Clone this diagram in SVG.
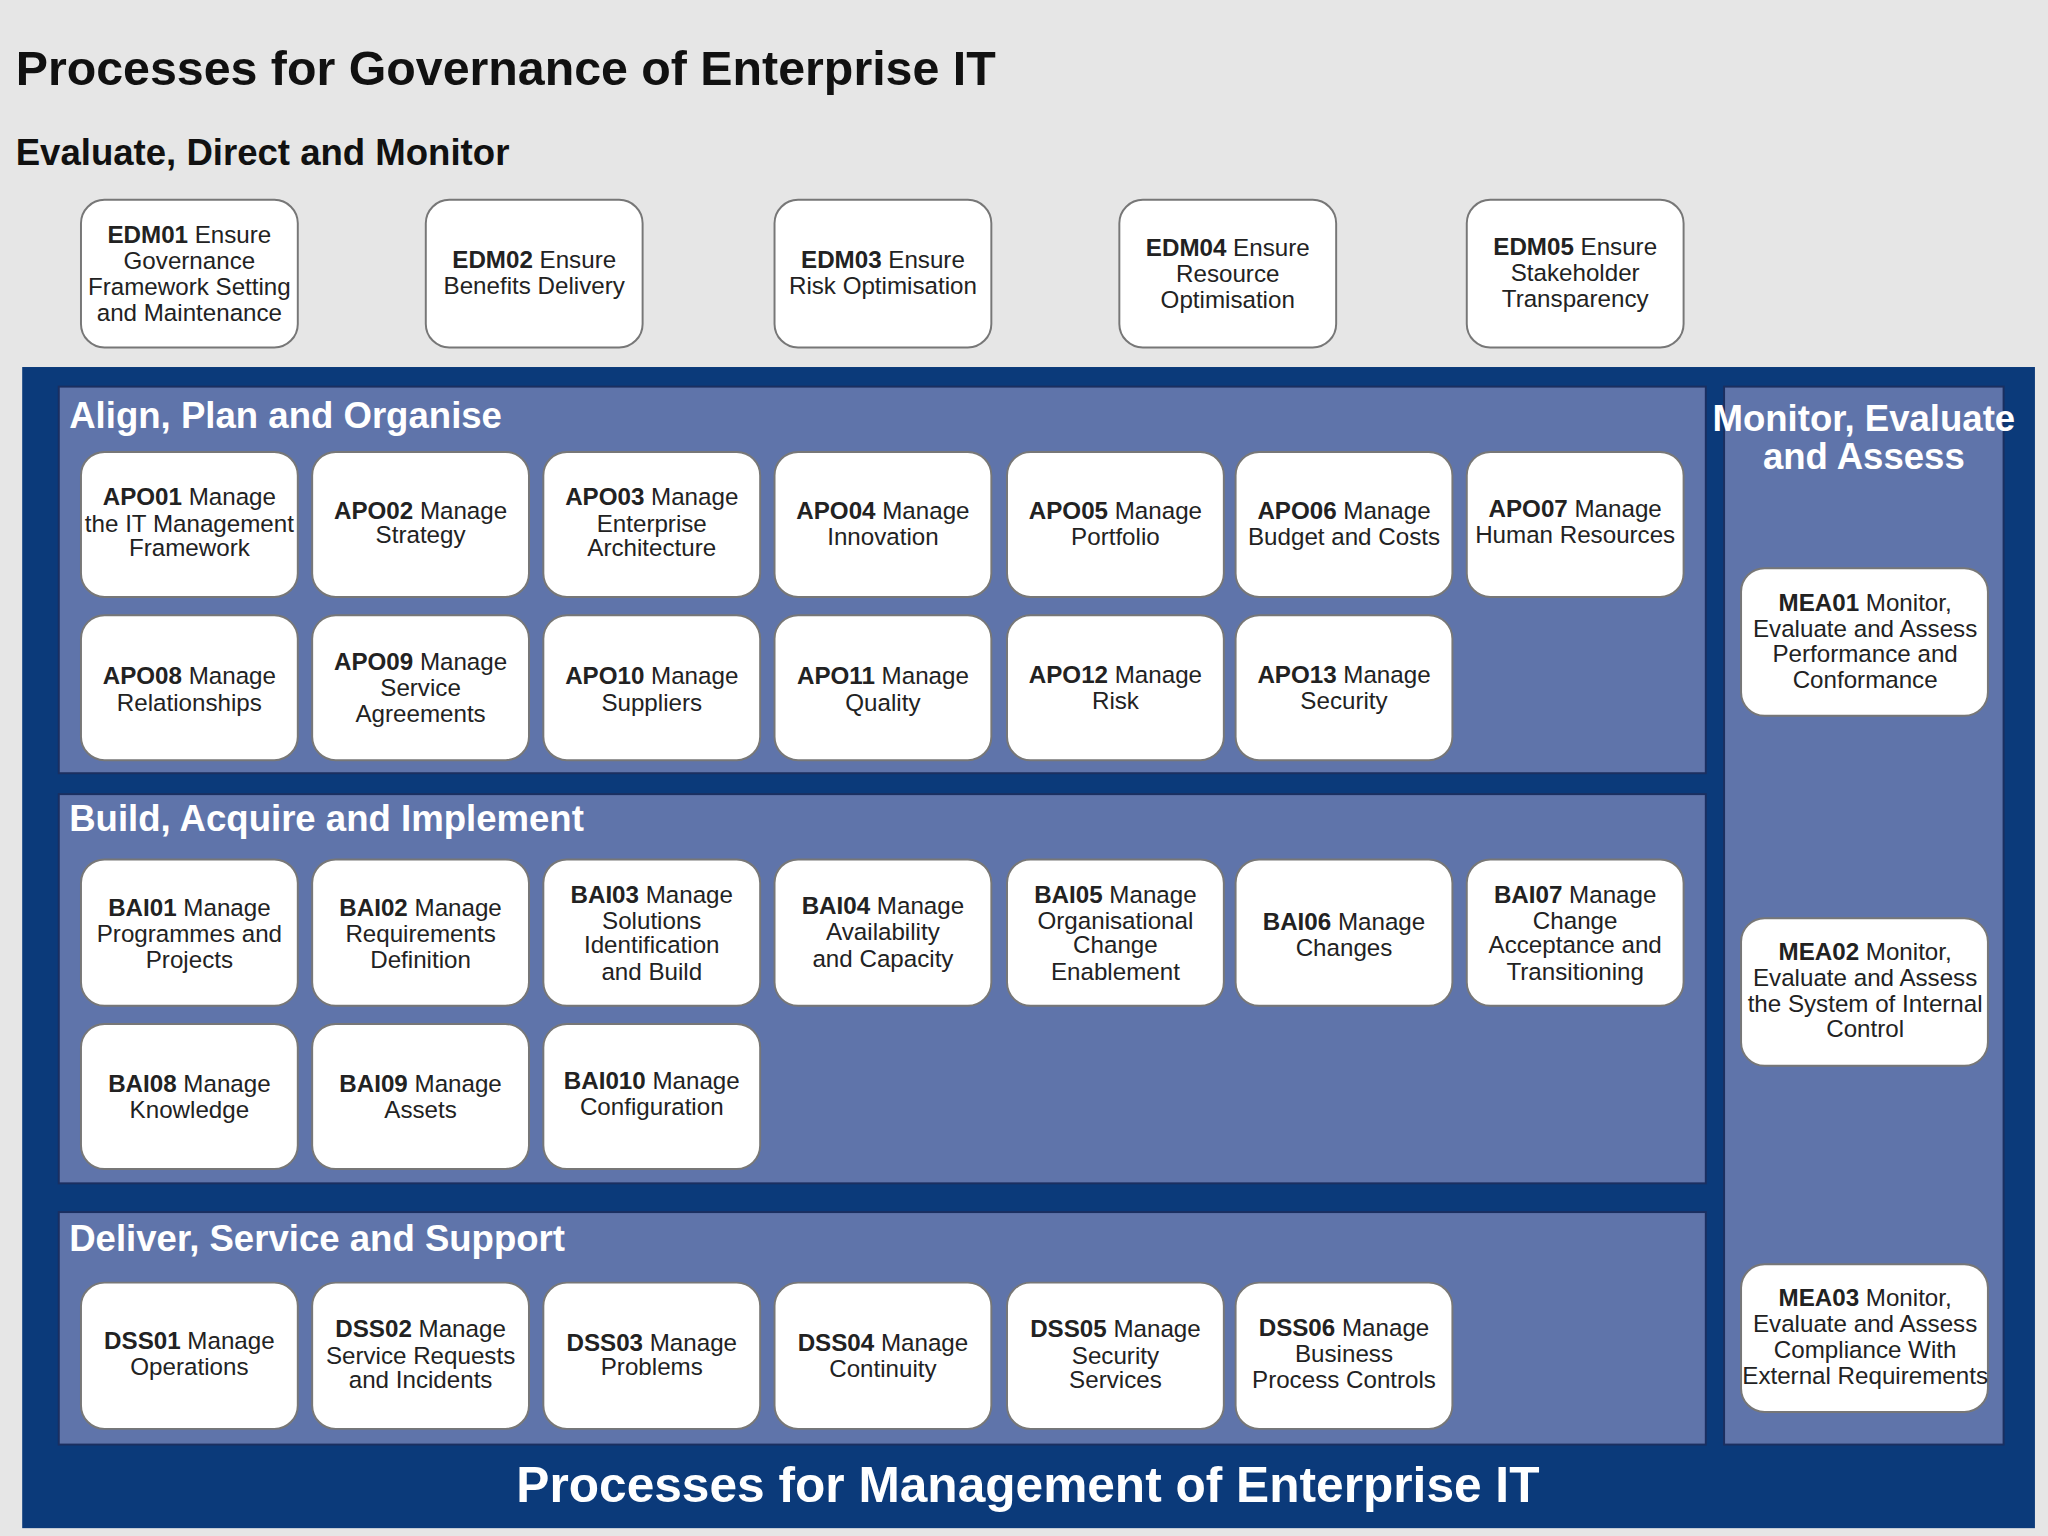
<svg xmlns="http://www.w3.org/2000/svg" width="2048" height="1536" viewBox="0 0 2048 1536">
<style>
text{font-family:"Liberation Sans Narrow","Liberation Sans",Arial,sans-serif}
.n rect{fill:#fff;stroke:#777;stroke-width:1.5}
.n text{font-size:18.5px;fill:#222;text-anchor:middle}
.b{font-weight:bold}
.p{fill:#5f74aa;stroke:#1b2f60;stroke-width:1.5}
.h{font-size:28px;font-weight:bold;fill:#fff}
</style>
<rect width="2048" height="1536" fill="#e6e6e6"/>
<g transform="scale(1.30612)">
<text x="12" y="65" font-size="37" font-weight="bold" fill="#111">Processes for Governance of Enterprise IT</text>
<text x="12" y="126" font-size="28" font-weight="bold" fill="#111">Evaluate, Direct and Monitor</text>
<rect x="17" y="281" width="1541" height="889" fill="#0b3a7a"/>
<rect class="p" x="45" y="296" width="1261" height="296"/>
<rect class="p" x="45" y="608" width="1261" height="298"/>
<rect class="p" x="45" y="928" width="1261" height="178"/>
<rect class="p" x="1320" y="296" width="214" height="810"/>
<text class="h" x="53" y="328">Align, Plan and Organise</text>
<text class="h" x="53" y="636">Build, Acquire and Implement</text>
<text class="h" x="53" y="958">Deliver, Service and Support</text>
<text class="h" x="1427" y="330" text-anchor="middle">Monitor, Evaluate</text>
<text class="h" x="1427" y="359" text-anchor="middle">and Assess</text>
<text x="787" y="1150" font-size="38" font-weight="bold" fill="#fff" text-anchor="middle">Processes for Management of Enterprise IT</text>

<g id="EDM01" class="n"><rect x="62" y="153" width="166" height="113" rx="18"/><text x="145" y="186"><tspan class="b">EDM01</tspan> Ensure</text><text x="145" y="206">Governance</text><text x="145" y="226">Framework Setting</text><text x="145" y="246">and Maintenance</text></g>
<g id="EDM02" class="n"><rect x="326" y="153" width="166" height="113" rx="18"/><text x="409" y="205"><tspan class="b">EDM02</tspan> Ensure</text><text x="409" y="225">Benefits Delivery</text></g>
<g id="EDM03" class="n"><rect x="593" y="153" width="166" height="113" rx="18"/><text x="676" y="205"><tspan class="b">EDM03</tspan> Ensure</text><text x="676" y="225">Risk Optimisation</text></g>
<g id="EDM04" class="n"><rect x="857" y="153" width="166" height="113" rx="18"/><text x="940" y="196"><tspan class="b">EDM04</tspan> Ensure</text><text x="940" y="216">Resource</text><text x="940" y="236">Optimisation</text></g>
<g id="EDM05" class="n"><rect x="1123" y="153" width="166" height="113" rx="18"/><text x="1206" y="195"><tspan class="b">EDM05</tspan> Ensure</text><text x="1206" y="215">Stakeholder</text><text x="1206" y="235">Transparency</text></g>

<g id="APO01" class="n"><rect x="62" y="346" width="166" height="111" rx="18"/><text x="145" y="387"><tspan class="b">APO01</tspan> Manage</text><text x="145" y="407">the IT Management</text><text x="145" y="426">Framework</text></g>
<g id="APO02" class="n"><rect x="239" y="346" width="166" height="111" rx="18"/><text x="322" y="397"><tspan class="b">APO02</tspan> Manage</text><text x="322" y="416">Strategy</text></g>
<g id="APO03" class="n"><rect x="416" y="346" width="166" height="111" rx="18"/><text x="499" y="387"><tspan class="b">APO03</tspan> Manage</text><text x="499" y="407">Enterprise</text><text x="499" y="426">Architecture</text></g>
<g id="APO04" class="n"><rect x="593" y="346" width="166" height="111" rx="18"/><text x="676" y="397"><tspan class="b">APO04</tspan> Manage</text><text x="676" y="417">Innovation</text></g>
<g id="APO05" class="n"><rect x="771" y="346" width="166" height="111" rx="18"/><text x="854" y="397"><tspan class="b">APO05</tspan> Manage</text><text x="854" y="417">Portfolio</text></g>
<g id="APO06" class="n"><rect x="946" y="346" width="166" height="111" rx="18"/><text x="1029" y="397"><tspan class="b">APO06</tspan> Manage</text><text x="1029" y="417">Budget and Costs</text></g>
<g id="APO07" class="n"><rect x="1123" y="346" width="166" height="111" rx="18"/><text x="1206" y="396"><tspan class="b">APO07</tspan> Manage</text><text x="1206" y="416">Human Resources</text></g>
<g id="APO08" class="n"><rect x="62" y="471" width="166" height="111" rx="18"/><text x="145" y="524"><tspan class="b">APO08</tspan> Manage</text><text x="145" y="544">Relationships</text></g>
<g id="APO09" class="n"><rect x="239" y="471" width="166" height="111" rx="18"/><text x="322" y="513"><tspan class="b">APO09</tspan> Manage</text><text x="322" y="533">Service</text><text x="322" y="553">Agreements</text></g>
<g id="APO10" class="n"><rect x="416" y="471" width="166" height="111" rx="18"/><text x="499" y="524"><tspan class="b">APO10</tspan> Manage</text><text x="499" y="544">Suppliers</text></g>
<g id="APO11" class="n"><rect x="593" y="471" width="166" height="111" rx="18"/><text x="676" y="524"><tspan class="b">APO11</tspan> Manage</text><text x="676" y="544">Quality</text></g>
<g id="APO12" class="n"><rect x="771" y="471" width="166" height="111" rx="18"/><text x="854" y="523"><tspan class="b">APO12</tspan> Manage</text><text x="854" y="543">Risk</text></g>
<g id="APO13" class="n"><rect x="946" y="471" width="166" height="111" rx="18"/><text x="1029" y="523"><tspan class="b">APO13</tspan> Manage</text><text x="1029" y="543">Security</text></g>

<g id="BAI01" class="n"><rect x="62" y="658" width="166" height="112" rx="18"/><text x="145" y="701"><tspan class="b">BAI01</tspan> Manage</text><text x="145" y="721">Programmes and</text><text x="145" y="741">Projects</text></g>
<g id="BAI02" class="n"><rect x="239" y="658" width="166" height="112" rx="18"/><text x="322" y="701"><tspan class="b">BAI02</tspan> Manage</text><text x="322" y="721">Requirements</text><text x="322" y="741">Definition</text></g>
<g id="BAI03" class="n"><rect x="416" y="658" width="166" height="112" rx="18"/><text x="499" y="691"><tspan class="b">BAI03</tspan> Manage</text><text x="499" y="711">Solutions</text><text x="499" y="730">Identification</text><text x="499" y="750">and Build</text></g>
<g id="BAI04" class="n"><rect x="593" y="658" width="166" height="112" rx="18"/><text x="676" y="700"><tspan class="b">BAI04</tspan> Manage</text><text x="676" y="720">Availability</text><text x="676" y="740">and Capacity</text></g>
<g id="BAI05" class="n"><rect x="771" y="658" width="166" height="112" rx="18"/><text x="854" y="691"><tspan class="b">BAI05</tspan> Manage</text><text x="854" y="711">Organisational</text><text x="854" y="730">Change</text><text x="854" y="750">Enablement</text></g>
<g id="BAI06" class="n"><rect x="946" y="658" width="166" height="112" rx="18"/><text x="1029" y="712"><tspan class="b">BAI06</tspan> Manage</text><text x="1029" y="732">Changes</text></g>
<g id="BAI07" class="n"><rect x="1123" y="658" width="166" height="112" rx="18"/><text x="1206" y="691"><tspan class="b">BAI07</tspan> Manage</text><text x="1206" y="711">Change</text><text x="1206" y="730">Acceptance and</text><text x="1206" y="750">Transitioning</text></g>
<g id="BAI08" class="n"><rect x="62" y="784" width="166" height="111" rx="18"/><text x="145" y="836"><tspan class="b">BAI08</tspan> Manage</text><text x="145" y="856">Knowledge</text></g>
<g id="BAI09" class="n"><rect x="239" y="784" width="166" height="111" rx="18"/><text x="322" y="836"><tspan class="b">BAI09</tspan> Manage</text><text x="322" y="856">Assets</text></g>
<g id="BAI10" class="n"><rect x="416" y="784" width="166" height="111" rx="18"/><text x="499" y="834"><tspan class="b">BAI010</tspan> Manage</text><text x="499" y="854">Configuration</text></g>

<g id="DSS01" class="n"><rect x="62" y="982" width="166" height="112" rx="18"/><text x="145" y="1033"><tspan class="b">DSS01</tspan> Manage</text><text x="145" y="1053">Operations</text></g>
<g id="DSS02" class="n"><rect x="239" y="982" width="166" height="112" rx="18"/><text x="322" y="1024"><tspan class="b">DSS02</tspan> Manage</text><text x="322" y="1044">Service Requests</text><text x="322" y="1063">and Incidents</text></g>
<g id="DSS03" class="n"><rect x="416" y="982" width="166" height="112" rx="18"/><text x="499" y="1034"><tspan class="b">DSS03</tspan> Manage</text><text x="499" y="1053">Problems</text></g>
<g id="DSS04" class="n"><rect x="593" y="982" width="166" height="112" rx="18"/><text x="676" y="1034"><tspan class="b">DSS04</tspan> Manage</text><text x="676" y="1054">Continuity</text></g>
<g id="DSS05" class="n"><rect x="771" y="982" width="166" height="112" rx="18"/><text x="854" y="1024"><tspan class="b">DSS05</tspan> Manage</text><text x="854" y="1044">Security</text><text x="854" y="1063">Services</text></g>
<g id="DSS06" class="n"><rect x="946" y="982" width="166" height="112" rx="18"/><text x="1029" y="1023"><tspan class="b">DSS06</tspan> Manage</text><text x="1029" y="1043">Business</text><text x="1029" y="1063">Process Controls</text></g>

<g id="MEA01" class="n"><rect x="1333" y="435" width="189" height="113" rx="18"/><text x="1428" y="468"><tspan class="b">MEA01</tspan> Monitor,</text><text x="1428" y="488">Evaluate and Assess</text><text x="1428" y="507">Performance and</text><text x="1428" y="527">Conformance</text></g>
<g id="MEA02" class="n"><rect x="1333" y="703" width="189" height="113" rx="18"/><text x="1428" y="735"><tspan class="b">MEA02</tspan> Monitor,</text><text x="1428" y="755">Evaluate and Assess</text><text x="1428" y="775">the System of Internal</text><text x="1428" y="794">Control</text></g>
<g id="MEA03" class="n"><rect x="1333" y="968" width="189" height="113" rx="18"/><text x="1428" y="1000"><tspan class="b">MEA03</tspan> Monitor,</text><text x="1428" y="1020">Evaluate and Assess</text><text x="1428" y="1040">Compliance With</text><text x="1428" y="1060">External Requirements</text></g>
<g id="connectors"/>
</g>
</svg>
